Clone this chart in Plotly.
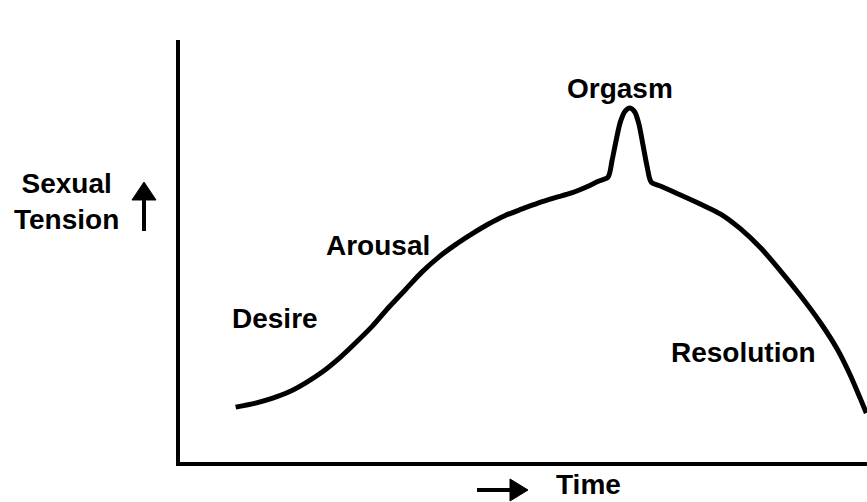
import plotly.graph_objects as go

W, H = 867, 502

# Curve: time (0-100) vs sexual tension (arbitrary units)
time = [8.1, 11.0, 13.5, 15.9, 18.3, 20.7, 23.2, 25.5, 28.0, 30.4,
        32.8, 35.2, 37.7, 40.0, 42.5, 44.9, 47.2, 49.7, 52.2, 54.5,
        57.0, 59.4, 60.9, 62.3, 62.9, 63.5, 64.1, 64.8, 65.5, 66.2,
        66.8, 67.4, 68.0, 68.6, 70.0, 72.2, 75.8, 78.7, 81.6, 84.5,
        87.4, 90.3, 93.2, 95.7, 97.5, 99.0, 99.9]
tension = [12.2, 13.1, 14.2, 15.6, 17.6, 20.0, 23.1, 26.4, 30.2, 34.4,
           38.3, 42.2, 45.6, 48.2, 50.7, 52.9, 54.7, 56.2, 57.6, 58.7,
           59.8, 61.3, 62.4, 63.3, 67.1, 71.6, 75.6, 78.0, 78.7, 77.8,
           75.1, 70.4, 65.6, 62.2, 61.3, 59.8, 57.3, 55.1, 51.8, 47.6,
           42.5, 37.0, 31.0, 25.0, 19.5, 14.2, 10.9]

# Phase labels (text, time, tension)
phase_labels = ["Desire", "Arousal", "Orgasm", "Resolution"]
phase_time = [13.8, 28.8, 64.0, 82.0]
phase_tension = [31.8, 48.2, 83.1, 24.4]

y_title = "Sexual<br>Tension"
x_title = "Time"

FONT = "Liberation Sans, Arial, Helvetica, sans-serif"
FS = 28


def px(x):
    return x / W


def py(y):
    return (H - y) / H


fig = go.Figure()
fig.add_trace(go.Scatter(
    x=time, y=tension, mode="lines",
    line=dict(color="black", width=5, shape="spline", smoothing=0.8),
    hoverinfo="skip", showlegend=False,
))

annotations = []
for t, xv, yv in zip(phase_labels, phase_time, phase_tension):
    annotations.append(dict(
        x=xv, y=yv, xref="x", yref="y", text="<b>%s</b>" % t,
        showarrow=False, xanchor="center", yanchor="middle",
        font=dict(family=FONT, size=FS, color="black"),
    ))
annotations.append(dict(
    x=px(66), y=py(201), xref="paper", yref="paper", text="<b>%s</b>" % y_title,
    showarrow=False, xanchor="center", yanchor="middle", align="center", borderpad=0,
    font=dict(family=FONT, size=FS, color="black"),
))
annotations.append(dict(
    x=px(588), y=py(484), xref="paper", yref="paper", text="<b>%s</b>" % x_title,
    showarrow=False, xanchor="center", yanchor="middle", borderpad=0,
    font=dict(family=FONT, size=FS, color="black"),
))

shapes = [
    # up arrow next to y title
    dict(type="line", xref="paper", yref="paper", x0=px(144), x1=px(144),
         y0=py(231), y1=py(198), line=dict(color="black", width=4)),
    dict(type="path", xref="paper", yref="paper",
         path="M %f %f L %f %f L %f %f Z" % (px(132), py(200), px(156), py(200), px(144), py(182)),
         fillcolor="black", line=dict(color="black", width=1)),
    # right arrow next to x title
    dict(type="line", xref="paper", yref="paper", x0=px(477), x1=px(512),
         y0=py(490), y1=py(490), line=dict(color="black", width=4)),
    dict(type="path", xref="paper", yref="paper",
         path="M %f %f L %f %f L %f %f Z" % (px(510), py(479), px(510), py(501), px(528), py(490)),
         fillcolor="black", line=dict(color="black", width=1)),
]

fig.update_layout(
    width=W, height=H,
    margin=dict(l=0, r=0, t=0, b=0),
    paper_bgcolor="white", plot_bgcolor="white",
    xaxis=dict(domain=[180 / W, 1], range=[0, 100], showgrid=False, zeroline=False,
               showticklabels=False, ticks="", showline=True, linecolor="black",
               linewidth=4, fixedrange=True),
    yaxis=dict(domain=[(H - 462) / H, (H - 40) / H], range=[0, 93.8], showgrid=False,
               zeroline=False, showticklabels=False, ticks="", showline=True,
               linecolor="black", linewidth=4, fixedrange=True),
    annotations=annotations,
    shapes=shapes,
    showlegend=False,
)

fig.write_html("out.html", config={"displayModeBar": False},
               post_script="document.body.style.margin='0px';document.body.style.overflow='hidden';")
